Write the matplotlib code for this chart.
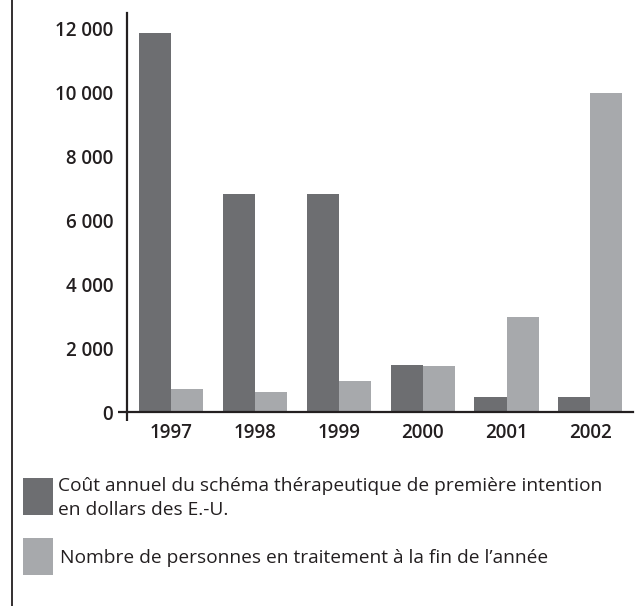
import matplotlib
matplotlib.use("Agg")
import matplotlib.pyplot as plt
from matplotlib.patches import Rectangle
from matplotlib.lines import Line2D
import numpy as np

years = ["1997", "1998", "1999", "2000", "2001", "2002"]
cost = [11850, 6800, 6800, 1470, 470, 470]
people = [720, 630, 970, 1440, 2970, 9970]
yticks = [0, 2000, 4000, 6000, 8000, 10000, 12000]
ytick_labels = ["0", "2 000", "4 000", "6 000", "8 000", "10 000", "12 000"]
legend_labels = ["Coût annuel du schéma thérapeutique de première intention\nen dollars des E.-U.",
                 "Nombre de personnes en traitement à la fin de l\u2019année"]

DARK = "#6d6e71"
LIGHT = "#a7a9ac"
INK = "#231f20"

plt.rcParams["font.family"] = ["Open Sans", "DejaVu Sans"]

fig = plt.figure(figsize=(6.36, 6.06), dpi=100)
ax = fig.add_axes([127/636, 1-412/606, (633-127)/636, (412-13)/606])

x = np.arange(len(years))
w = 0.382
ax.bar(x - w/2, cost, width=w, color=DARK, linewidth=0)
ax.bar(x + w/2, people, width=w, color=LIGHT, linewidth=0)

ax.set_xlim(-0.53, 5.51)
ax.set_ylim(0, 12470)

for s in ["top", "right"]:
    ax.spines[s].set_visible(False)
for s in ["left", "bottom"]:
    ax.spines[s].set_linewidth(1.6)
    ax.spines[s].set_color(INK)

ax.set_yticks(yticks)
ax.set_yticklabels(ytick_labels, fontsize=13.5, fontweight="semibold", color=INK)
ax.tick_params(axis="y", length=6.5, width=1.6, color=INK, pad=3.5)
for t in ax.yaxis.get_major_ticks()[1:]:
    t.tick1line.set_visible(False)

ax.set_xticks(x)
ax.set_xticklabels(years, fontsize=13.5, fontweight="semibold", color=INK)
ax.tick_params(axis="x", length=0, pad=8)

# spine extension below x axis
ax.add_line(Line2D([0, 0], [0, -0.0226], transform=ax.transAxes, clip_on=False,
                   color=INK, linewidth=1.6, solid_capstyle="butt"))

# left frame line
fig.add_artist(Line2D([12/636, 12/636], [0, 1], transform=fig.transFigure,
                      color=INK, linewidth=1.3))

# legend
def frect(x0, y0, x1, y1, color):
    fig.add_artist(Rectangle((x0/636, 1-y1/606), (x1-x0)/636, (y1-y0)/606,
                             transform=fig.transFigure, facecolor=color, linewidth=0))

frect(23, 478, 53, 515, DARK)
frect(23, 538, 53, 575, LIGHT)
fig.text(58/636, 1-498/606, legend_labels[0], fontsize=13.8, color=INK, va="center",
         ha="left", linespacing=1.4)
fig.text(60/636, 1-558/606, legend_labels[1], fontsize=13.8, color=INK, va="center",
         ha="left")

fig.savefig("out.png", dpi=100)
